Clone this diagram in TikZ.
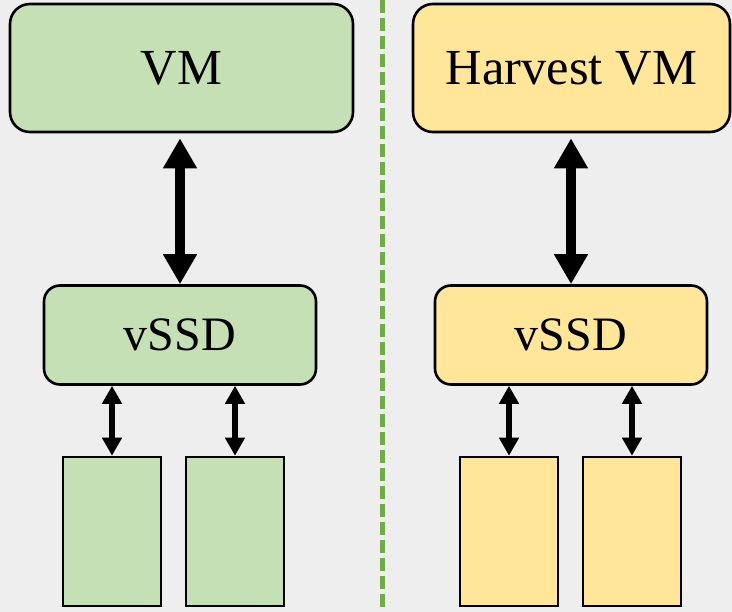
\documentclass[tikz,border=0pt]{standalone}
\usepackage{fontspec}
\setmainfont{Liberation Serif}
\usetikzlibrary{arrows.meta}

\definecolor{bggray}{HTML}{EEEEEE}
\definecolor{vmgreen}{HTML}{C5E0B4}
\definecolor{hvyellow}{HTML}{FFE699}
\definecolor{divgreen}{HTML}{70AD47}

\begin{document}
\begin{tikzpicture}[
			x=1pt, y=-1pt,
			vmbox/.style={
				rectangle,
				draw,
				line width=2.6pt,
				rounded corners=20pt,
				minimum width=343pt,
				minimum height=128pt,
				align=center,
				font=\fontsize{50.5}{58}\selectfont
			},
			ssdbox/.style={
				rectangle,
				draw,
				line width=2.6pt,
				rounded corners=16pt,
				minimum width=272pt,
				minimum height=99pt,
				font=\fontsize{48}{56}\selectfont
			},
			diskbox/.style={
				rectangle,
				draw,
				line width=2.6pt,
				minimum width=98pt,
				minimum height=149pt
			},
			bigarrow/.style={{Triangle[width=32pt,length=30pt]}-{Triangle[width=32pt,length=30pt]}, line width=10pt},
			smallarrow/.style={{Triangle[width=19pt,length=18pt]}-{Triangle[width=19pt,length=18pt]}, line width=5.5pt}
			]
			
			\fill [bggray] (0,0) rectangle (732,612);
			\useasboundingbox (0,0) rectangle (732,612);
			
			\draw [divgreen, line width=5pt, dash pattern=on 13pt off 5pt] (382,0) -- (382,612);
			
			\node (vm) [vmbox, fill=vmgreen] at (181.5,68) {VM};
			\node (hvm) [vmbox, fill=hvyellow, minimum width=317pt] at (571.5,68) {Harvest VM};
			
			\node (ssdl) [ssdbox, fill=vmgreen] at (180,335) {vSSD};
			\node (ssdr) [ssdbox, fill=hvyellow] at (571,335) {vSSD};
			
			\node (dl1) [diskbox, fill=vmgreen] at (112,531.5) {};
			\node (dl2) [diskbox, fill=vmgreen] at (235,531.5) {};
			\node (dr1) [diskbox, fill=hvyellow] at (509,531.5) {};
			\node (dr2) [diskbox, fill=hvyellow] at (632,531.5) {};
			
			\draw [bigarrow, shorten <=5pt] (vm.south -| ssdl.north) -- (ssdl.north);
			\draw [bigarrow, shorten <=5pt] (hvm.south -| ssdr.north) -- (ssdr.north);
			
			\draw [smallarrow] (ssdl.south -| dl1.north) -- (dl1.north);
			\draw [smallarrow] (ssdl.south -| dl2.north) -- (dl2.north);
			\draw [smallarrow] (ssdr.south -| dr1.north) -- (dr1.north);
			\draw [smallarrow] (ssdr.south -| dr2.north) -- (dr2.north);
			
		\end{tikzpicture}
\end{document}
